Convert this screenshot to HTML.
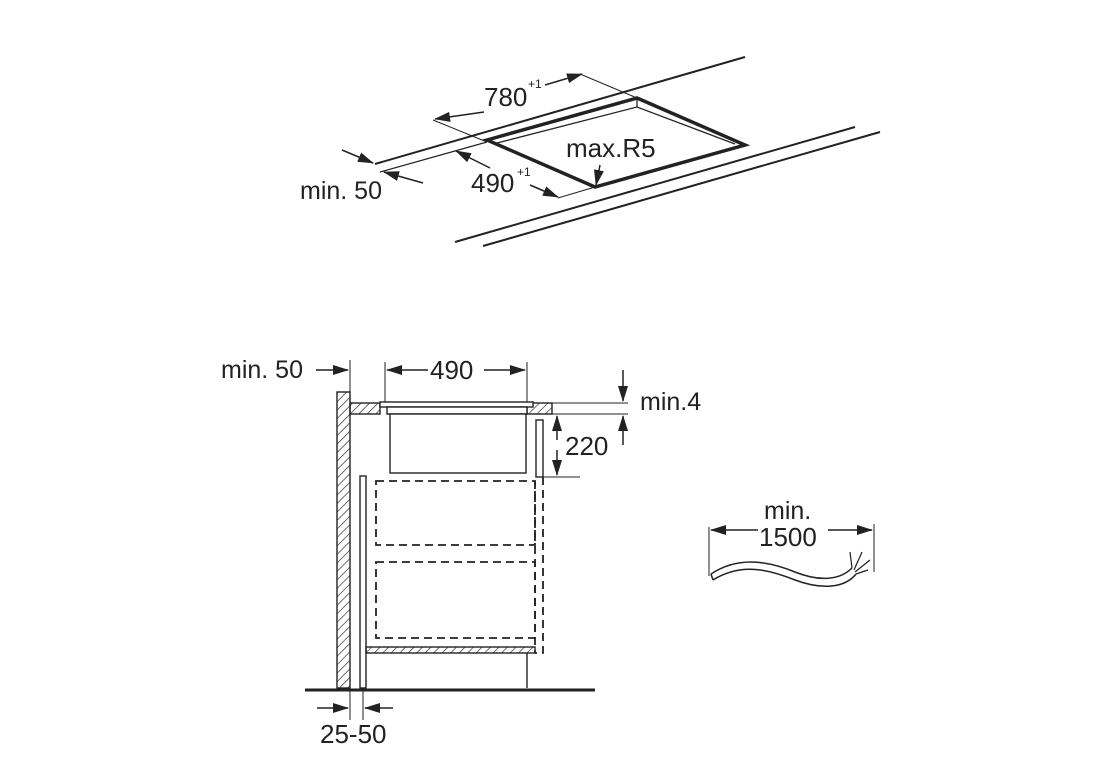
<!DOCTYPE html>
<html><head><meta charset="utf-8"><style>
html,body{margin:0;padding:0;background:#fff;}
svg{display:block;}
text{font-family:"Liberation Sans",sans-serif;fill:#222;}
</style></head><body>
<svg width="1109" height="778" viewBox="0 0 1109 778" xmlns="http://www.w3.org/2000/svg">
<defs>
<marker id="a" markerWidth="16" markerHeight="10" refX="15" refY="5" orient="auto" markerUnits="userSpaceOnUse">
<path d="M0,0 L16,5 L0,10 Z" fill="#222"/></marker>
<pattern id="h" width="6" height="6" patternUnits="userSpaceOnUse" patternTransform="rotate(45)">
<line x1="0" y1="0" x2="0" y2="6" stroke="#333" stroke-width="1.4"/></pattern>
</defs>
<g stroke="#222" fill="none">
<line x1="375" y1="164" x2="745" y2="57" stroke-width="2"/>
<line x1="380" y1="172" x2="487" y2="142" stroke-width="1.2"/>
<line x1="455" y1="242" x2="855" y2="127" stroke-width="2"/>
<line x1="483" y1="246" x2="880" y2="132" stroke-width="2"/>
<path d="M487,140 L637,98 L745,145 L595,187 Z" stroke-width="3.5" stroke-linejoin="miter"/>
<path d="M497,143 L637,107 L735,144" stroke-width="1.3"/>
<line x1="637" y1="98" x2="637" y2="107" stroke-width="1.3"/>
<line x1="433" y1="120" x2="487" y2="142" stroke-width="1"/>
<line x1="580" y1="74" x2="637" y2="98" stroke-width="1"/>
<line x1="558" y1="198" x2="595" y2="187" stroke-width="1"/>
<line x1="484" y1="112" x2="435" y2="119" stroke-width="1.5" marker-end="url(#a)"/>
<line x1="545" y1="85" x2="582" y2="74" stroke-width="1.5" marker-end="url(#a)"/>
<line x1="490" y1="168" x2="456" y2="151" stroke-width="1.5" marker-end="url(#a)"/>
<line x1="530" y1="185" x2="558" y2="197" stroke-width="1.5" marker-end="url(#a)"/>
<line x1="600" y1="165" x2="596" y2="185" stroke-width="1.5" marker-end="url(#a)"/>
<line x1="342" y1="150" x2="373" y2="163" stroke-width="1.5" marker-end="url(#a)"/>
<line x1="423" y1="183" x2="384" y2="172" stroke-width="1.5" marker-end="url(#a)"/>
</g>
<text x="484" y="106" font-size="26">780</text><text x="528" y="88" font-size="12">+1</text>
<text x="566" y="157" font-size="26">max.R5</text>
<text x="471" y="192" font-size="26">490</text><text x="517" y="176" font-size="12">+1</text>
<text x="300" y="199" font-size="25">min. 50</text>

<g stroke="#222" stroke-width="1.4">
<rect x="337" y="392" width="13" height="296" fill="url(#h)"/>
<rect x="350" y="403" width="30" height="11" fill="url(#h)"/>
<rect x="527" y="403" width="25" height="11" fill="url(#h)"/>
<rect x="380" y="402" width="153" height="5" fill="#fff"/>
<rect x="387" y="407" width="140" height="7" fill="#fff"/>
<rect x="390" y="414" width="136" height="59" fill="#fff"/>
<rect x="536" y="420" width="7" height="57" fill="#fff"/>
<rect x="360" y="476" width="6" height="212" fill="#fff"/>
<rect x="366" y="647" width="169" height="6" fill="url(#h)"/>
</g>
<g stroke="#222" stroke-width="1.8" fill="none" stroke-dasharray="8,5">
<rect x="376" y="481" width="159" height="64"/>
<rect x="376" y="562" width="159" height="76"/>
<path d="M535,481 V653 M543,477 V653 H535"/>
</g>
<g stroke="#222" fill="none">
<line x1="527" y1="653" x2="527" y2="688" stroke-width="1.4"/>
<line x1="305" y1="690" x2="595" y2="690" stroke-width="3"/>
<line x1="350" y1="360" x2="350" y2="392" stroke-width="1"/>
<line x1="385" y1="362" x2="385" y2="402" stroke-width="1"/>
<line x1="527" y1="362" x2="527" y2="402" stroke-width="1"/>
<line x1="552" y1="403" x2="628" y2="403" stroke-width="1"/>
<line x1="552" y1="414" x2="628" y2="414" stroke-width="1"/>
<line x1="543" y1="477" x2="580" y2="477" stroke-width="1"/>
<line x1="350" y1="688" x2="350" y2="720" stroke-width="1"/>
<line x1="363" y1="688" x2="363" y2="720" stroke-width="1"/>
<g stroke-width="1.5">
<line x1="316" y1="370" x2="348" y2="370" marker-end="url(#a)"/>
<line x1="428" y1="370" x2="387" y2="370" marker-end="url(#a)"/>
<line x1="484" y1="370" x2="525" y2="370" marker-end="url(#a)"/>
<line x1="557" y1="440" x2="557" y2="416" marker-end="url(#a)"/>
<line x1="557" y1="450" x2="557" y2="475" marker-end="url(#a)"/>
<line x1="623" y1="370" x2="623" y2="401" marker-end="url(#a)"/>
<line x1="623" y1="445" x2="623" y2="416" marker-end="url(#a)"/>
<line x1="317" y1="708" x2="348" y2="708" marker-end="url(#a)"/>
<line x1="393" y1="708" x2="365" y2="708" marker-end="url(#a)"/>
<line x1="709" y1="527" x2="709" y2="576" stroke-width="1"/>
<line x1="874" y1="524" x2="874" y2="572" stroke-width="1"/>
<line x1="758" y1="530" x2="711" y2="530" marker-end="url(#a)"/>
<line x1="828" y1="530" x2="872" y2="530" marker-end="url(#a)"/>
</g>
<path d="M711,574 C740,555 770,562 795,572 C820,582 840,580 852,568" stroke-width="1.5"/>
<path d="M713,580 C742,562 770,570 795,580 C822,590 845,588 856,574" stroke-width="1.5"/>
<line x1="711" y1="574" x2="713" y2="580" stroke-width="1.5"/>
<path d="M852,568 L850,552 M854,570 L862,552 M855,572 L870,560 M856,574 L868,570" stroke-width="1.2"/>
</g>
<text x="221" y="378" font-size="25">min. 50</text>
<text x="430" y="379" font-size="26">490</text>
<text x="565" y="455" font-size="26">220</text>
<text x="640" y="410" font-size="25">min.4</text>
<text x="320" y="743" font-size="26">25-50</text>
<text x="764" y="519" font-size="25">min.</text>
<text x="759" y="546" font-size="26">1500</text>
</svg>
</body></html>
